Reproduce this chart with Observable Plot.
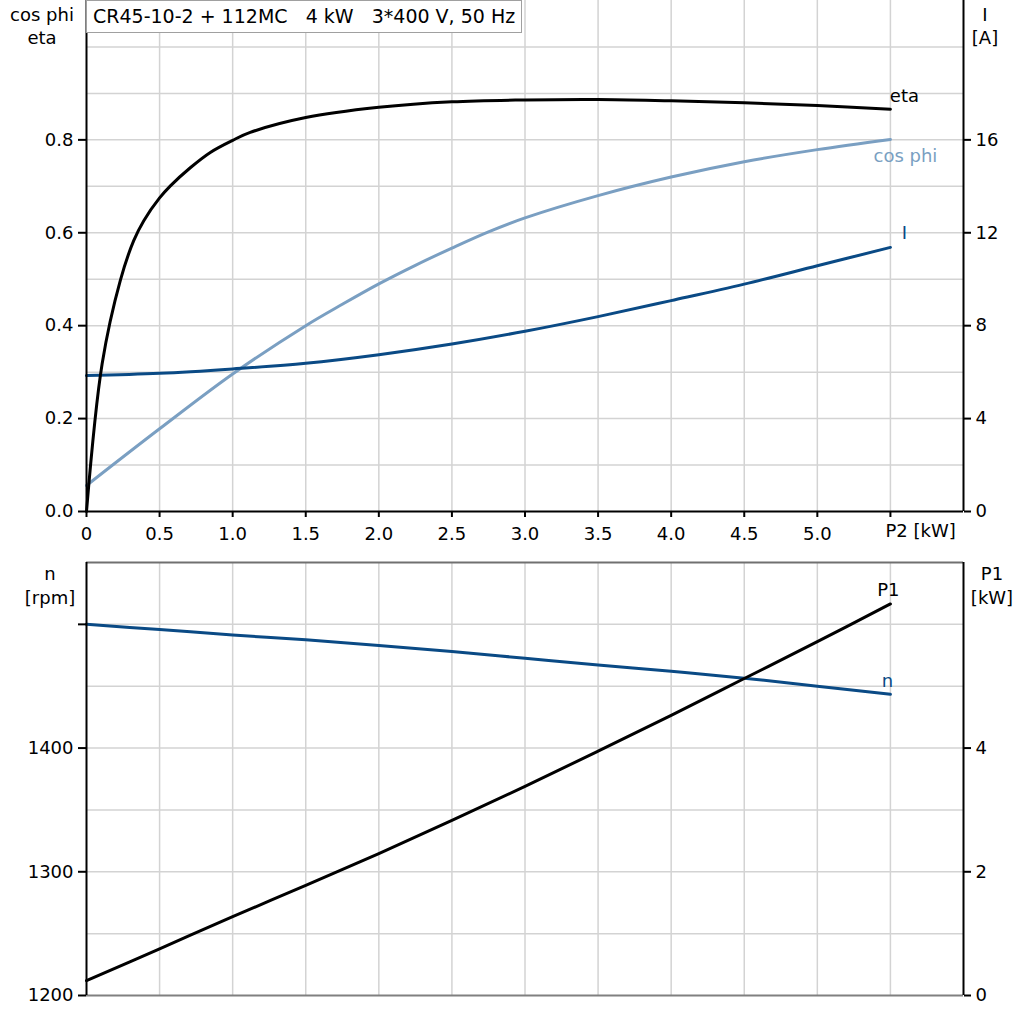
<!DOCTYPE html>
<html><head><meta charset="utf-8">
<script src="https://cdn.jsdelivr.net/npm/d3@7"></script>
<script src="https://cdn.jsdelivr.net/npm/@observablehq/plot@0.6"></script>
<style>
body{margin:0;background:#fff;}
#wrap{position:relative;width:1024px;height:1024px;font-family:"DejaVu Sans",sans-serif;font-size:18px;color:#000;overflow:hidden;}
.chart{position:absolute;left:0;}
.lbl{position:absolute;text-align:center;line-height:23px;white-space:pre;}
#title{position:absolute;left:86px;top:0;width:436px;height:33px;box-sizing:border-box;border:1px solid #a0a0a0;background:#fff;white-space:pre;font-size:19px;line-height:31px;padding-left:6px;}
</style></head><body><div id="wrap"></div>
<script>
// ---- data ----
const titleText = "CR45-10-2 + 112MC   4 kW   3*400 V, 50 Hz";
const etaP2 = [0, 0.107, 0.232, 0.323, 0.392, 0.5, 0.574, 0.71, 0.847, 1.0, 1.12, 1.5, 2.0, 2.5, 3.0, 3.5, 4.0, 4.5, 5.0, 5.5];
const etaVal = [0, 0.318, 0.498, 0.583, 0.626, 0.675, 0.701, 0.740, 0.773, 0.799, 0.816, 0.848, 0.870, 0.882, 0.886, 0.887, 0.884, 0.880, 0.874, 0.866];
const cosP2 = [0, 0.5, 1.0, 1.5, 1.75, 2.0, 2.25, 2.5, 2.75, 3.0, 3.5, 4.0, 4.5, 5.0, 5.5];
const cosPhi = [0.056, 0.178, 0.296, 0.400, 0.446, 0.490, 0.530, 0.567, 0.602, 0.632, 0.680, 0.720, 0.753, 0.779, 0.801];
const p2 = [0, 0.5, 1.0, 1.5, 2.0, 2.5, 3.0, 3.5, 4.0, 4.5, 5.0, 5.5];
const current = [5.85, 5.95, 6.14, 6.38, 6.75, 7.21, 7.76, 8.39, 9.08, 9.79, 10.58, 11.37];
const speed = [1500, 1495.8, 1491.4, 1487.5, 1483, 1478, 1472.6, 1467.2, 1462, 1456.5, 1450, 1443.5];
const p1 = [0.24, 0.755, 1.275, 1.78, 2.295, 2.83, 3.38, 3.95, 4.53, 5.125, 5.72, 6.33];
const xTicks = [0, 0.5, 1.0, 1.5, 2.0, 2.5, 3.0, 3.5, 4.0, 4.5, 5.0, 5.5];
const xTickLabels = ["0", "0.5", "1.0", "1.5", "2.0", "2.5", "3.0", "3.5", "4.0", "4.5", "5.0", ""];
const xUnitLabel = "P2 [kW]";
const xGrid = [0.5, 1.0, 1.5, 2.0, 2.5, 3.0, 3.5, 4.0, 4.5, 5.0, 5.5];
const effTicks = [0, 0.2, 0.4, 0.6, 0.8];
const effGrid = [0.1, 0.2, 0.3, 0.4, 0.5, 0.6, 0.7, 0.8, 0.9, 1.0];
const ampTicks = [0, 4, 8, 12, 16];
const rpmTicks = [1200, 1300, 1400, 1500];
const rpmTickLabels = ["1200", "1300", "1400", ""];
const rpmGrid = [1250, 1300, 1350, 1400, 1450, 1500];
const kwTicks = [0, 2, 4];

// ---- colours / scale links ----
const cEta = "#000000", cCos = "#7a9fc2", cI = "#0a4a85", cN = "#0a4a85", cP1 = "#000000";
const gridColor = "#d3d3d3";
const ampPerUnit = 20;   // right axis I = left value * 20
const rpmBase = 1200, rpmPerKw = 50; // right axis P1 mapped onto n scale

const wrap = document.getElementById("wrap");
const font = {fontFamily: "DejaVu Sans, sans-serif", fontSize: "18px", color: "#000", background: "transparent", overflow: "visible"};

const etaData = etaP2.map((x, i) => ({x, y: etaVal[i]}));
const cosData = cosP2.map((x, i) => ({x, y: cosPhi[i]}));
const iData = p2.map((x, i) => ({x, y: current[i] / ampPerUnit}));
const nData = p2.map((x, i) => ({x, y: speed[i]}));
const p1Data = p2.map((x, i) => ({x, y: rpmBase + p1[i] * rpmPerKw}));
const last = a => [a[a.length - 1]];
const crv = "catmull-rom";

const topChart = Plot.plot({
  width: 1024, height: 540,
  marginLeft: 86, marginRight: 61, marginTop: 0, marginBottom: 29,
  style: font,
  x: {domain: [0, 6], label: null},
  y: {domain: [0, 1.1], label: null},
  marks: [
    Plot.gridX(xGrid, {stroke: gridColor, strokeOpacity: 1, strokeWidth: 1.5}),
    Plot.gridY(effGrid, {stroke: gridColor, strokeOpacity: 1, strokeWidth: 1.5}),
    Plot.line(cosData, {x: "x", y: "y", stroke: cCos, strokeWidth: 3, curve: crv}),
    Plot.line(iData, {x: "x", y: "y", stroke: cI, strokeWidth: 3, curve: crv}),
    Plot.line(etaData, {x: "x", y: "y", stroke: cEta, strokeWidth: 3, curve: crv}),
    Plot.text(last(etaData), {x: "x", y: "y", text: () => "eta", fill: cEta, dx: 14, dy: -13, fontSize: 18}),
    Plot.text(last(cosData), {x: "x", y: "y", text: () => "cos phi", fill: cCos, dx: 15, dy: 17, fontSize: 18}),
    Plot.text(last(iData), {x: "x", y: "y", text: () => "I", fill: cI, dx: 14, dy: -14, fontSize: 18}),
    Plot.ruleY([0], {stroke: "#000", strokeWidth: 2}),
    Plot.ruleX([0], {stroke: "#000", strokeWidth: 2}),
    Plot.ruleX([6], {stroke: "#000", strokeWidth: 2}),
    Plot.axisX(xTicks, {anchor: "bottom", tickSize: 6, tickPadding: 10, strokeWidth: 2, label: null,
      tickFormat: d => xTickLabels[xTicks.indexOf(d)]}),
    Plot.text([{x: 5.5, y: 0}], {x: "x", y: "y", text: () => xUnitLabel, textAnchor: "start", dx: -5, dy: 20, fontSize: 18, fill: "#000"}),
    Plot.axisY(effTicks, {anchor: "left", tickSize: 8, tickPadding: 5, strokeWidth: 2, label: null,
      tickFormat: d => d.toFixed(1)}),
    Plot.axisY(effTicks, {anchor: "right", tickSize: 7, tickPadding: 5, strokeWidth: 2, label: null,
      tickFormat: d => String(ampTicks[effTicks.indexOf(d)])})
  ]
});
topChart.classList.add("chart");
topChart.style.top = "0px";
wrap.appendChild(topChart);

const bottomChart = Plot.plot({
  width: 1024, height: 479,
  marginLeft: 86, marginRight: 61, marginTop: 17, marginBottom: 29,
  style: font,
  x: {domain: [0, 6], label: null, axis: null},
  y: {domain: [1200, 1550], label: null},
  marks: [
    Plot.gridX(xGrid, {stroke: gridColor, strokeOpacity: 1, strokeWidth: 1.5}),
    Plot.gridY(rpmGrid, {stroke: gridColor, strokeOpacity: 1, strokeWidth: 1.5}),
    Plot.ruleY([1550], {stroke: "#707070", strokeWidth: 2}),
    Plot.ruleY([1200], {stroke: "#808080", strokeWidth: 2}),
    Plot.line(nData, {x: "x", y: "y", stroke: cN, strokeWidth: 3, curve: crv}),
    Plot.line(p1Data, {x: "x", y: "y", stroke: cP1, strokeWidth: 3, curve: crv}),
    Plot.text(last(p1Data), {x: "x", y: "y", text: () => "P1", fill: cP1, dx: -2, dy: -14, fontSize: 18}),
    Plot.text(last(nData), {x: "x", y: "y", text: () => "n", fill: cN, dx: -3, dy: -13, fontSize: 18}),
    Plot.ruleX([0], {stroke: "#000", strokeWidth: 2}),
    Plot.ruleX([6], {stroke: "#000", strokeWidth: 2}),
    Plot.axisY(rpmTicks, {anchor: "left", tickSize: 8, tickPadding: 5, strokeWidth: 2, label: null,
      tickFormat: d => rpmTickLabels[rpmTicks.indexOf(d)]}),
    Plot.axisY(kwTicks.map(k => rpmBase + k * rpmPerKw), {anchor: "right", tickSize: 7, tickPadding: 5, strokeWidth: 2, label: null,
      tickFormat: d => String((d - rpmBase) / rpmPerKw)})
  ]
});
bottomChart.classList.add("chart");
bottomChart.style.top = "545px";
wrap.appendChild(bottomChart);

// ---- titles / axis captions ----
const title = document.createElement("div");
title.id = "title";
title.textContent = titleText;
wrap.appendChild(title);

function lbl(text, cx, cy) {
  const d = document.createElement("div");
  d.className = "lbl";
  d.textContent = text;
  d.style.left = (cx - 60) + "px";
  d.style.width = "120px";
  d.style.top = (cy - 11) + "px";
  wrap.appendChild(d);
}
lbl("cos phi", 42, 14); lbl("eta", 42, 37);
lbl("I", 985, 14); lbl("[A]", 985, 37);
lbl("n", 50, 573); lbl("[rpm]", 50, 597);
lbl("P1", 992, 573); lbl("[kW]", 992, 597);
</script>
</body></html>
